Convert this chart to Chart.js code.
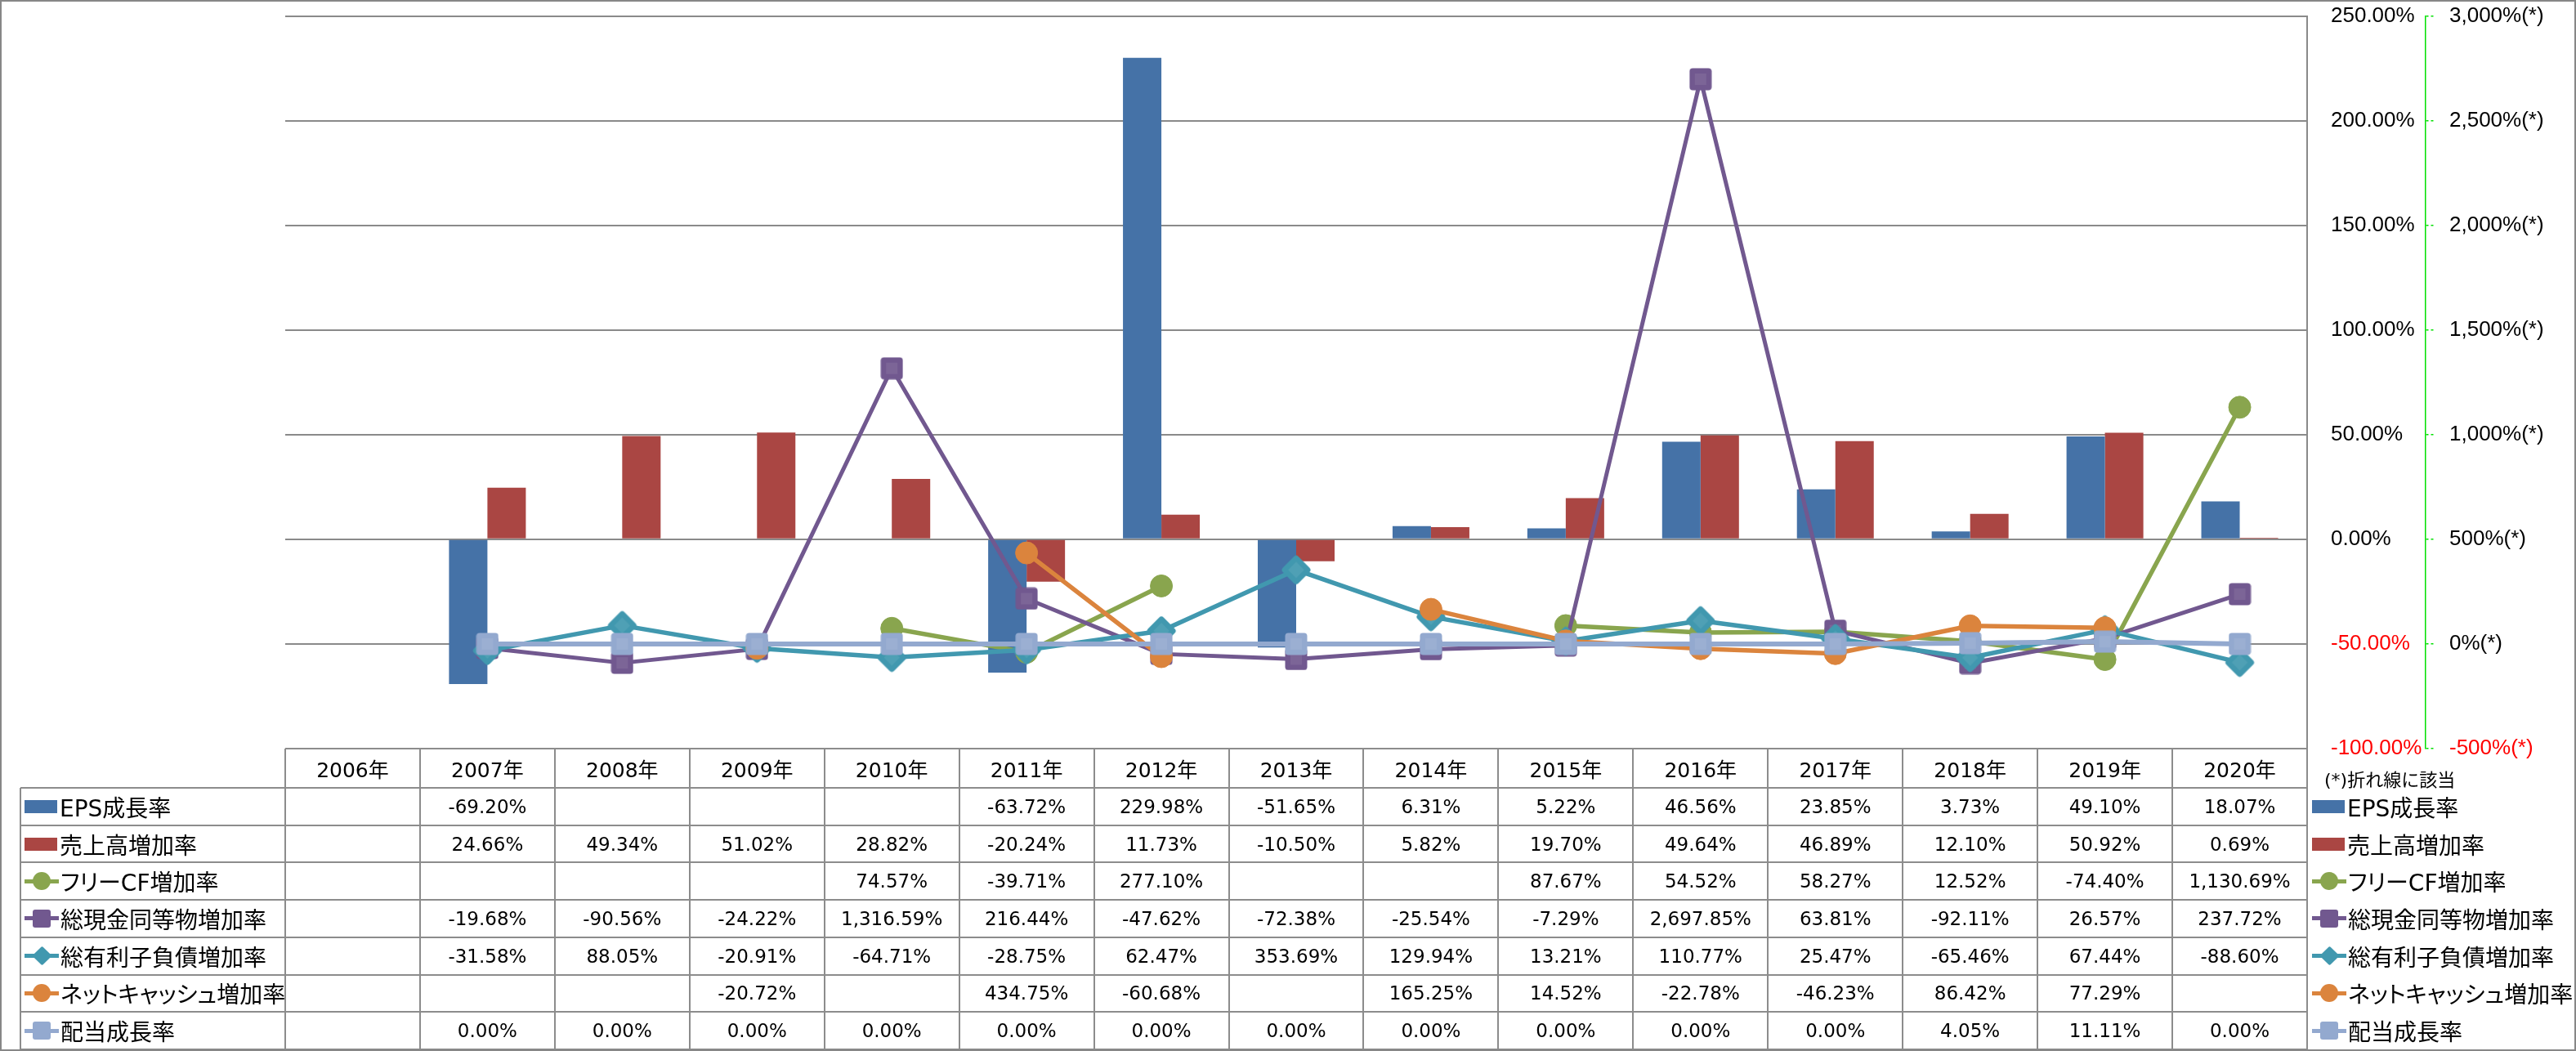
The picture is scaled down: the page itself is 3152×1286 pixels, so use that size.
<!DOCTYPE html>
<html>
<head>
<meta charset="utf-8">
<title>成長率</title>
<script src="https://cdn.jsdelivr.net/npm/chart.js@4.4.1/dist/chart.umd.min.js"></script>
<style>
html, body { margin: 0; padding: 0; background: #fff; }
#frame { position: relative; width: 3152px; height: 1286px; overflow: hidden; background: #fff; }
#border { position: absolute; left: 0; top: 0; width: 3152px; height: 1286px; box-sizing: border-box; border: 2px solid #878787; pointer-events: none; }
#c { position: absolute; left: 0; top: 0; }
#tbl { position: absolute; left: 0; top: 0; }
.ln { position: absolute; background: #8c8c8c; }
.cell { position: absolute; display: flex; align-items: center; justify-content: center; white-space: nowrap;
        font-family: "DejaVu Sans", "Noto Sans CJK JP", sans-serif; font-size: 23px; color: #000; }
.cell.head { font-size: 25px; }
.lg { position: absolute; display: flex; align-items: center; white-space: nowrap;
      font-family: "DejaVu Sans", "Noto Sans CJK JP", sans-serif; font-size: 28px; color: #000;
      font-feature-settings: "palt"; }
.note { position: absolute; white-space: nowrap; font-family: "DejaVu Sans", "Noto Sans CJK JP", sans-serif;
        font-size: 22px; color: #000; }
.kbar { display: inline-block; width: 40px; height: 16px; margin-right: 3px; }
.kline { position: relative; display: inline-block; width: 42px; height: 26px; margin-right: 2px; }
.kline .seg { position: absolute; left: 0; right: 0; top: 10.5px; height: 5px; }
.kline .mk { position: absolute; left: 10px; top: 2px; width: 22px; height: 22px; }
.mk.circle { border-radius: 50%; }
.mk.rect { border-radius: 3px; }
.mk.rectRot { width: 17px !important; height: 17px !important; left: 12.5px !important; top: 4.5px !important; transform: rotate(45deg); border-radius: 2px; }
</style>
</head>
<body>
<div id="frame">
  <canvas id="c" width="3152" height="1286"></canvas>
  <div id="tbl"></div>
  <div id="border"></div>
</div>
<script>
// 年度
var years = ['2006年', '2007年', '2008年', '2009年', '2010年', '2011年', '2012年', '2013年',
             '2014年', '2015年', '2016年', '2017年', '2018年', '2019年', '2020年'];

// 棒グラフ (左軸)
var epsGrowth   = [null, -69.20, null, null, null, -63.72, 229.98, -51.65, 6.31, 5.22, 46.56, 23.85, 3.73, 49.10, 18.07];
var salesGrowth = [null, 24.66, 49.34, 51.02, 28.82, -20.24, 11.73, -10.50, 5.82, 19.70, 49.64, 46.89, 12.10, 50.92, 0.69];

// 折れ線 (右軸 (*))
var freeCfGrowth   = [null, null, null, null, 74.57, -39.71, 277.10, null, null, 87.67, 54.52, 58.27, 12.52, -74.40, 1130.69];
var cashGrowth     = [null, -19.68, -90.56, -24.22, 1316.59, 216.44, -47.62, -72.38, -25.54, -7.29, 2697.85, 63.81, -92.11, 26.57, 237.72];
var debtGrowth     = [null, -31.58, 88.05, -20.91, -64.71, -28.75, 62.47, 353.69, 129.94, 13.21, 110.77, 25.47, -65.46, 67.44, -88.60];
var netCashGrowth  = [null, null, null, -20.72, null, 434.75, -60.68, null, 165.25, 14.52, -22.78, -46.23, 86.42, 77.29, null];
var dividendGrowth = [null, 0, 0, 0, 0, 0, 0, 0, 0, 0, 0, 0, 4.05, 11.11, 0];

// 軸の目盛
var leftTicks  = { min: -100, max: 250, step: 50 };
var rightTicks = { min: -500, max: 3000, step: 500 };

var seriesNames  = ['EPS成長率', '売上高増加率', 'フリーCF増加率', '総現金同等物増加率', '総有利子負債増加率', 'ネットキャッシュ増加率', '配当成長率'];
var seriesValues = [epsGrowth, salesGrowth, freeCfGrowth, cashGrowth, debtGrowth, netCashGrowth, dividendGrowth];

// 見た目
var seriesKind   = ['bar', 'bar', 'line', 'line', 'line', 'line', 'line'];
var seriesColor  = ['#4572A7', '#AA4643', '#89A54E', '#71588F', '#4198AF', '#DB843D', '#93A9CF'];
var seriesMarker = [null, null, 'circle', 'rect', 'rectRot', 'circle', 'rect'];
var seriesWidth  = [0, 0, 5.5, 5, 5.5, 5.5, 6];

function fmtPct(v) {
    return v.toLocaleString('en-US', { minimumFractionDigits: 2, maximumFractionDigits: 2 }) + '%';
}
function negRed(ctx) {
    return ctx.tick && ctx.tick.value < 0 ? '#ff0000' : '#000000';
}

// 角の丸い四角/ひし形のマーカー (Excel 風)
function roundRectPath(g, x, y, w, h, r) {
    g.beginPath();
    g.moveTo(x + r, y);
    g.lineTo(x + w - r, y);
    g.arcTo(x + w, y, x + w, y + r, r);
    g.lineTo(x + w, y + h - r);
    g.arcTo(x + w, y + h, x + w - r, y + h, r);
    g.lineTo(x + r, y + h);
    g.arcTo(x, y + h, x, y + h - r, r);
    g.lineTo(x, y + r);
    g.arcTo(x, y, x + r, y, r);
    g.closePath();
}
function makeMarker(shape, color) {
    if (shape === 'circle') return 'circle';
    var c = document.createElement('canvas');
    var s = shape === 'rectRot' ? 40 : 28;
    c.width = s;
    c.height = s;
    var g = c.getContext('2d');
    g.translate(s / 2, s / 2);
    if (shape === 'rectRot') g.rotate(Math.PI / 4);
    g.fillStyle = color;
    roundRectPath(g, -13.5, -13.5, 27, 27, 4);
    g.fill();
    g.fillStyle = 'rgba(255,255,255,0.08)';
    g.fillRect(-7, -7, 14, 14);
    return c;
}

var datasets = [];
for (var i = 0; i < seriesNames.length; i++) {
    if (seriesKind[i] === 'bar') {
        datasets.push({
            type: 'bar',
            label: seriesNames[i],
            data: seriesValues[i],
            backgroundColor: seriesColor[i],
            yAxisID: 'y',
            categoryPercentage: 0.57,
            barPercentage: 1,
            order: 20 + i   // EPS が左側
        });
    } else {
        datasets.push({
            type: 'line',
            label: seriesNames[i],
            data: seriesValues[i],
            borderColor: seriesColor[i],
            backgroundColor: seriesColor[i],
            borderWidth: seriesWidth[i],
            borderJoinStyle: 'round',
            pointStyle: makeMarker(seriesMarker[i], seriesColor[i]),
            pointRadius: 13.5,
            pointBackgroundColor: seriesColor[i],
            pointBorderColor: seriesColor[i],
            pointBorderWidth: 1,
            spanGaps: false,
            tension: 0,
            yAxisID: 'y2',
            order: 10 - i
        });
    }
}

var tickFont = { family: 'Liberation Sans', size: 26 };

var chart = new Chart(document.getElementById('c'), {
    type: 'bar',
    data: { labels: years, datasets: datasets },
    options: {
        responsive: false,
        animation: false,
        layout: { padding: { left: 349, top: 19.5, right: 30, bottom: 370 } },
        plugins: { legend: { display: false }, tooltip: { enabled: false } },
        scales: {
            x: { display: false },
            y: {
                position: 'right',
                weight: 0,
                min: leftTicks.min,
                max: leftTicks.max,
                ticks: {
                    stepSize: leftTicks.step,
                    autoSkip: false,
                    padding: 29,
                    font: tickFont,
                    color: negRed,
                    callback: function (v) { return v.toFixed(2) + '%'; }
                },
                grid: { color: '#8a8a8a', lineWidth: 2, drawTicks: false },
                border: { display: true, color: '#8a8a8a', width: 2 },
                afterFit: function (s) { s.width = 145; s.paddingTop = 0; s.paddingBottom = 0; }
            },
            y2: {
                position: 'right',
                weight: 1,
                min: rightTicks.min,
                max: rightTicks.max,
                ticks: {
                    stepSize: rightTicks.step,
                    autoSkip: false,
                    padding: 19,
                    font: tickFont,
                    color: negRed,
                    callback: function (v) { return v.toLocaleString('en-US') + '%(*)'; }
                },
                grid: { drawOnChartArea: false, drawTicks: true, tickLength: 10, color: '#00e000', lineWidth: 1.5, tickBorderDash: [3, 3] },
                border: { display: true, color: '#00e000', width: 1.5, dash: [6, 4] },
                afterFit: function (s) { s.width = 154; s.paddingTop = 0; s.paddingBottom = 0; }
            }
        }
    }
});

// データテーブルと凡例
function keyHtml(i) {
    if (seriesKind[i] === 'bar') {
        return '<span class="kbar" style="background:' + seriesColor[i] + '"></span>';
    }
    return '<span class="kline"><i class="seg" style="background:' + seriesColor[i] + '"></i>' +
        '<i class="mk ' + seriesMarker[i] + '" style="background:' + seriesColor[i] + '"></i></span>';
}

function buildTable() {
    var area = chart.chartArea;
    var left = area.left, right = area.right, top = area.bottom;
    var colW = (right - left) / years.length;
    var legendLeft = 25;
    var headH = 48;
    var rowH = (1284 - top - headH) / seriesNames.length;
    var html = '';
    var r, k, y;

    // 罫線
    html += '<div class="ln" style="left:' + left + 'px;top:' + (top - 1) + 'px;width:' + (right - left) + 'px;height:2px"></div>';
    for (r = 0; r <= seriesNames.length; r++) {
        y = top + headH + r * rowH;
        html += '<div class="ln" style="left:' + legendLeft + 'px;top:' + (y - 1) + 'px;width:' + (right - legendLeft) + 'px;height:2px"></div>';
    }
    html += '<div class="ln" style="left:' + (legendLeft - 1) + 'px;top:' + (top + headH) + 'px;width:2px;height:' + (rowH * seriesNames.length) + 'px"></div>';
    for (k = 0; k <= years.length; k++) {
        html += '<div class="ln" style="left:' + (left + k * colW - 1) + 'px;top:' + top + 'px;width:2px;height:' + (headH + rowH * seriesNames.length) + 'px"></div>';
    }

    // 見出し
    for (k = 0; k < years.length; k++) {
        html += '<div class="cell head" style="left:' + (left + k * colW) + 'px;top:' + top + 'px;width:' + colW + 'px;height:' + headH + 'px">' + years[k] + '</div>';
    }

    // 各行
    for (r = 0; r < seriesNames.length; r++) {
        y = top + headH + r * rowH;
        html += '<div class="lg" style="left:' + (legendLeft + 5) + 'px;top:' + y + 'px;height:' + rowH + 'px">' + keyHtml(r) + seriesNames[r] + '</div>';
        for (k = 0; k < years.length; k++) {
            var v = seriesValues[r][k];
            if (v === null) continue;
            html += '<div class="cell" style="left:' + (left + k * colW) + 'px;top:' + y + 'px;width:' + colW + 'px;height:' + rowH + 'px">' + fmtPct(v) + '</div>';
        }
        // 右側の凡例
        html += '<div class="lg" style="left:' + (right + 6) + 'px;top:' + y + 'px;height:' + rowH + 'px">' + keyHtml(r) + seriesNames[r] + '</div>';
    }
    html += '<div class="note" style="left:' + (right + 21) + 'px;top:' + (top + 20) + 'px">(*)折れ線に該当</div>';

    document.getElementById('tbl').innerHTML = html;
}
buildTable();
</script>
</body>
</html>
